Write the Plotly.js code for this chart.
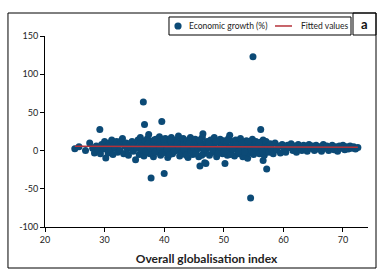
<!DOCTYPE html>
<html>
<head>
<meta charset="utf-8">
<script src="https://cdn.plot.ly/plotly-3.0.1.min.js"></script>
<style>html,body{margin:0;padding:0;background:#fff;}#chart{width:386px;height:279px;}</style>
</head>
<body>
<div id="chart"></div>
<script>
// Economic growth (%) vs overall globalisation index
const globX = [
  25.0,25.7,26.8,27.5,28.0,28.3,28.6,28.9,29.2,29.3,29.5,29.8,30.2,30.0,
  30.4,30.6,30.8,31.0,31.2,31.4,31.6,31.8,32.0,32.2,32.4,32.6,32.8,33.0,33.2,33.4,33.6,33.8,34.0,34.2,34.4,34.6,34.8,35.0,35.2,35.4,35.6,35.8,
  36.0,36.0,36.2,36.5,36.7,36.4,36.6,36.8,37.0,37.2,37.4,37.6,37.8,37.8,38.0,38.2,38.4,38.6,38.8,39.0,39.2,39.4,39.6,39.6,39.8,40.0,40.0,40.2,40.4,40.6,40.8,41.0,41.2,41.4,41.6,41.8,42.0,42.2,42.4,42.6,42.8,43.0,43.2,43.4,43.6,43.8,44.0,44.2,44.4,44.6,44.8,45.0,45.2,45.4,45.6,45.8,46.0,46.0,46.2,46.5,46.4,46.6,46.8,46.8,47.0,47.0,
  36.3,36.9,37.3,37.7,38.1,38.5,38.9,39.3,39.7,40.1,40.5,40.9,41.3,41.7,42.1,42.5,42.9,43.3,43.7,44.1,44.5,44.9,45.3,45.7,46.1,46.3,46.7,47.2,45.9,41.1,39.9,38.3,
  47.4,47.6,47.8,48.0,48.2,48.4,48.6,48.8,49.0,49.2,49.4,49.6,49.8,50.0,50.2,50.2,50.4,50.6,50.8,51.0,51.0,51.2,51.4,51.6,51.8,52.0,52.2,52.4,52.6,52.8,53.0,53.2,53.4,53.6,53.8,54.0,54.0,54.2,54.4,54.5,54.6,54.8,54.9,55.0,55.2,55.4,55.6,55.8,56.0,56.2,56.2,56.4,56.6,56.6,56.8,57.0,57.2,57.2,
  47.5,48.1,48.7,49.1,49.5,50.1,50.5,51.1,51.5,52.1,52.5,53.1,53.5,54.1,54.7,55.3,55.9,56.5,57.1,
  57.4,57.6,57.8,58.0,58.3,58.6,58.9,59.2,59.5,59.8,60.1,60.4,60.7,61.0,61.3,61.6,61.9,62.2,62.5,62.8,63.1,63.4,63.7,64.0,64.3,64.6,64.9,65.2,65.5,65.8,66.1,66.4,66.7,67.0,67.3,67.6,67.9,68.2,68.5,68.8,69.1,69.4,69.7,70.0,70.3,70.6,70.9,71.2,71.5,71.8,72.1,72.5
];
const growthY = [
  2.5,5,0,10,3,-3,6,1,27.5,-4,8,2,-9.6,12,
  5,-3,10,1,14,-5,7,3,12,-2,8,0,13,15.7,-4,6,10,2,-6,9,4,12,-1,7,-12,3,14,-5,
  10,17,-3,63.7,34,6,-7,13,2,16,21,-4,-36,8,12,-8,4,15,0,9,18,-6,38,5,13,-30,-2,16,7,-9,11,3,17,-4,9,14,0,6,19,-7,12,4,16,-3,8,13,-9,2,17,6,-5,11,15,0,8,-8,-20,13,3,22,17,-4,-16,9,-17,1,
  1,-1,9,3,6,-2,11,2,-3,9,1,-5,6,-1,10,3,-3,1,-6,9,-1,4,-4,3,6,-6,2,12,14,13,15,14,
  5,-6,14,8,-2,17,3,-8,11,0,15,6,-4,13,-17,2,9,-6,16,20,4,-2,12,7,-7,14,1,9,-4,16,5,-8,11,2,13,-10,6,-3,10,-62,3,15,123,-5,8,12,0,6,-4,27.5,11,3,-13,14,-6,8,-24,1,
  10,1,12,-3,4,-1,13,-5,2,8,-1,10,-2,12,-1,4,10,-1,12,
  5,-2,9,3,-4,10,1,6,-3,8,2,-2,7,4,9,0,6,-2,8,3,0,7,4,-1,8,3,6,0,7,2,5,-1,8,3,6,0,4,7,1,5,-1,6,3,7,1,5,2,6,3,5,2,4
];
// Fitted values (end points of the fitted line)
const fitX = [25.0, 72.5];
const fitY = [5.6, 4.3];

const xTicks = [20, 30, 40, 50, 60, 70];
const yTicks = [-100, -50, 0, 50, 100, 150];
const seriesNames = ['Economic growth (%)', 'Fitted values'];

const FONT = 'Lato, "Open Sans", "Liberation Sans", sans-serif';
const DOT = '#0c4a76';
const FIT = '#b5323a';

const data = [
  {
    type: 'scatter', mode: 'markers', name: seriesNames[0],
    x: globX, y: growthY,
    marker: {color: DOT, size: 7, line: {width: 0}}
  },
  {
    type: 'scatter', mode: 'lines', name: seriesNames[1],
    x: fitX, y: fitY,
    line: {color: FIT, width: 1.5}
  }
];

const layout = {
  width: 386, height: 279,
  margin: {l: 45, r: 18, t: 36, b: 52, pad: 0},
  paper_bgcolor: '#fff', plot_bgcolor: '#fff',
  font: {family: FONT, size: 9, color: '#222'},
  showlegend: false,
  xaxis: {
    range: [20, 74.2], tickvals: xTicks, ticktext: xTicks.map(String),
    showline: true, linecolor: '#000', linewidth: 1,
    ticks: 'outside', ticklen: 4, tickcolor: '#000',
    showgrid: false, zeroline: false,
    tickfont: {size: 9, color: '#222'},
    title: {text: '<b>Overall globalisation index</b>', font: {size: 12, color: '#222'}, standoff: 10}
  },
  yaxis: {
    range: [-100, 150], tickvals: yTicks, ticktext: yTicks.map(String),
    showline: true, linecolor: '#000', linewidth: 1,
    ticks: 'outside', ticklen: 4, tickcolor: '#000',
    showgrid: false, zeroline: false,
    tickfont: {size: 9, color: '#222'}
  },
  shapes: [
    // outer frame
    {type: 'rect', xref: 'paper', yref: 'paper', x0: -0.1146, x1: 1.0248, y0: -0.2147, y1: 1.1204,
     line: {color: '#000', width: 1}, fillcolor: 'rgba(0,0,0,0)'},
    // panel label box
    {type: 'rect', xref: 'paper', yref: 'paper', x0: 0.9536, x1: 1.0248, y0: 1.0052, y1: 1.1204,
     line: {color: '#000', width: 1}, fillcolor: 'rgba(0,0,0,0)'},
    // legend box
    {type: 'rect', xref: 'paper', yref: 'paper', x0: 0.3839, x1: 0.9474, y0: 1.0052, y1: 1.0995,
     line: {color: '#000', width: 1}, fillcolor: '#fff'},
    // legend marker
    {type: 'circle', xref: 'paper', yref: 'paper', xsizemode: 'pixel', ysizemode: 'pixel',
     xanchor: 0.4118, yanchor: 1.0524, x0: -3.6, x1: 3.6, y0: -3.6, y1: 3.6,
     line: {width: 0}, fillcolor: DOT},
    // legend line
    {type: 'line', xref: 'paper', yref: 'paper', x0: 0.7121, x1: 0.7647, y0: 1.0524, y1: 1.0524,
     line: {color: FIT, width: 1.5}}
  ],
  annotations: [
    {text: '<b>a</b>', xref: 'paper', yref: 'paper', x: 0.989, y: 1.062, xanchor: 'center', yanchor: 'middle',
     showarrow: false, font: {family: FONT, size: 13, color: '#111'}},
    {text: seriesNames[0], xref: 'paper', yref: 'paper', x: 0.4396, y: 1.0524, xanchor: 'left', yanchor: 'middle',
     showarrow: false, font: {family: FONT, size: 8.5, color: '#222'}},
    {text: seriesNames[1], xref: 'paper', yref: 'paper', x: 0.7864, y: 1.0524, xanchor: 'left', yanchor: 'middle',
     showarrow: false, font: {family: FONT, size: 8.5, color: '#222'}}
  ]
};

Plotly.newPlot('chart', data, layout, {staticPlot: true, displayModeBar: false});
</script>
</body>
</html>
